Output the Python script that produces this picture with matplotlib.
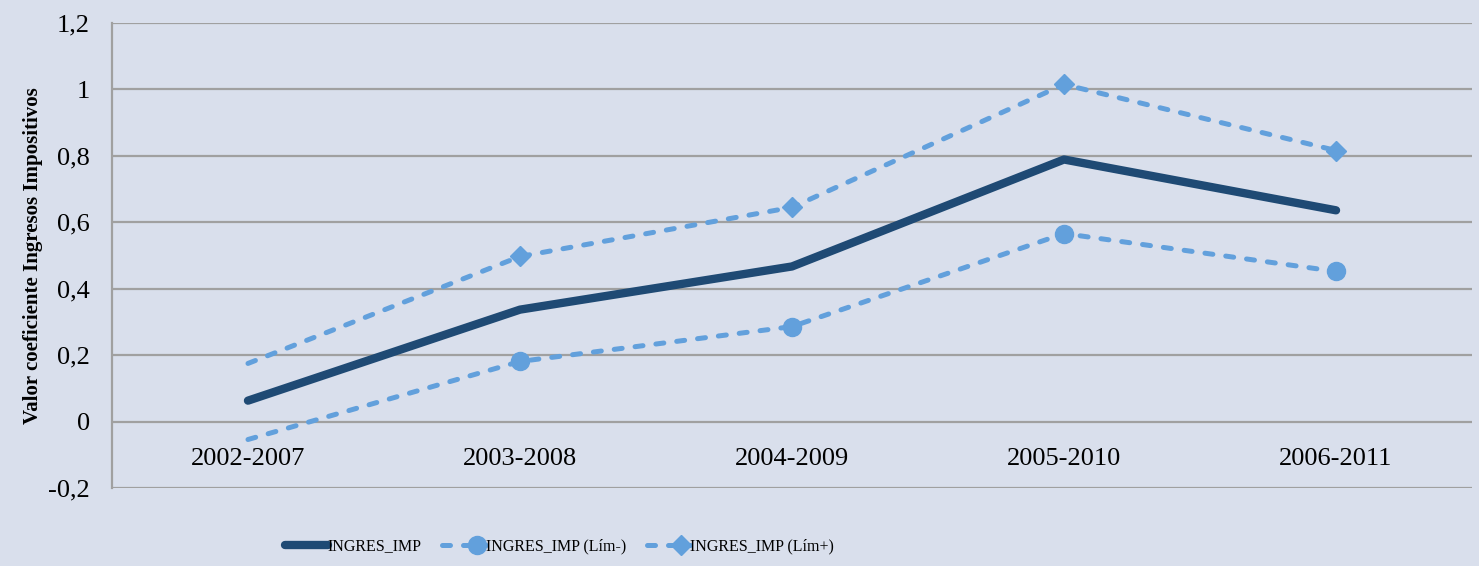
import matplotlib
matplotlib.use('Agg')
import matplotlib.pyplot as plt
from matplotlib.ticker import FixedLocator, FixedFormatter
from matplotlib.legend_handler import HandlerLine2DCompound

# ==============================
# DATA
# ==============================

periods = ["2002-2007", "2003-2008", "2004-2009", "2005-2010", "2006-2011"]
ingres_imp = [0.063, 0.337, 0.467, 0.789, 0.636]
ingres_lim_minus = [-0.054, 0.181, 0.286, 0.566, 0.452]
ingres_lim_plus = [0.175, 0.497, 0.645, 1.015, 0.816]

y_ticks = [-0.2, 0, 0.2, 0.4, 0.6, 0.8, 1.0, 1.2]
y_tick_labels = ["-0,2", "0", "0,2", "0,4", "0,6", "0,8", "1", "1,2"]

# ==============================
# STYLE
# ==============================

BG = "#D9DFEC"
DARK = "#1F4A74"
LIGHT = "#62A0DC"
GRID = "#A0A0A0"

plt.rcParams['font.family'] = ['Liberation Serif', 'DejaVu Serif']


class EndMarkerHandler(HandlerLine2DCompound):
    # marker at the right end of the legend line (Excel style)
    def get_xdata(self, legend, xdescent, ydescent, width, height, fontsize):
        xdata = [-xdescent, -xdescent + width]
        return xdata, [-xdescent + width - 0.55 * fontsize]

    def create_artists(self, *args, **kwargs):
        artists = super().create_artists(*args, **kwargs)
        for a in artists:
            a.set_markevery(None)
        return artists


fig = plt.figure(figsize=(14.79, 5.66), dpi=100, facecolor=BG)
ax = fig.add_axes([0.0757, 0.1378, 0.9196, 0.8216], facecolor=BG)

x = list(range(len(periods)))

l1, = ax.plot(x, ingres_imp, color=DARK, lw=6, solid_capstyle='round',
              label="INGRES_IMP", zorder=3)
l2, = ax.plot(x, ingres_lim_minus, color=LIGHT, lw=3.6, dashes=(1.6, 2.6),
              dash_capstyle='round', marker='o', markersize=13, markevery=[1, 2, 3, 4],
              label="INGRES_IMP (Lím-)", zorder=3)
l3, = ax.plot(x, ingres_lim_plus, color=LIGHT, lw=3.6, dashes=(1.6, 2.6),
              dash_capstyle='round', marker='D', markersize=10, markevery=[1, 2, 3, 4],
              label="INGRES_IMP (Lím+)", zorder=3)

ax.set_xlim(-0.5, len(periods) - 0.5)
ax.set_ylim(-0.2, 1.2)

ax.yaxis.set_major_locator(FixedLocator(y_ticks))
ax.yaxis.set_major_formatter(FixedFormatter(y_tick_labels))
ax.set_xticks(x)
ax.set_xticklabels(periods)

ax.grid(axis='y', color=GRID, lw=1.6)
ax.set_axisbelow(True)

for side in ['top', 'right']:
    ax.spines[side].set_visible(False)
ax.spines['left'].set_color(GRID)
ax.spines['left'].set_linewidth(1.6)
# category labels sit under the zero line, like the original
ax.spines['bottom'].set_position(('data', 0))
ax.spines['bottom'].set_visible(False)

ax.tick_params(axis='both', length=0, labelsize=19, colors='black')
ax.tick_params(axis='y', pad=16)
ax.tick_params(axis='x', pad=19)

ax.set_ylabel("Valor coeficiente Ingresos Impositivos", fontsize=15, fontweight='bold')
ax.yaxis.set_label_coords(-0.051, 0.5)

handler = EndMarkerHandler()
fig.legend(handles=[l1, l2, l3], loc='center', bbox_to_anchor=(0.378, 0.035), ncol=3,
           frameon=False, fontsize=11.5, handlelength=2.7, handletextpad=0.0,
           columnspacing=1.3, handler_map={l1: handler, l2: handler, l3: handler})

plt.savefig("out.png", dpi=100, facecolor=BG)
